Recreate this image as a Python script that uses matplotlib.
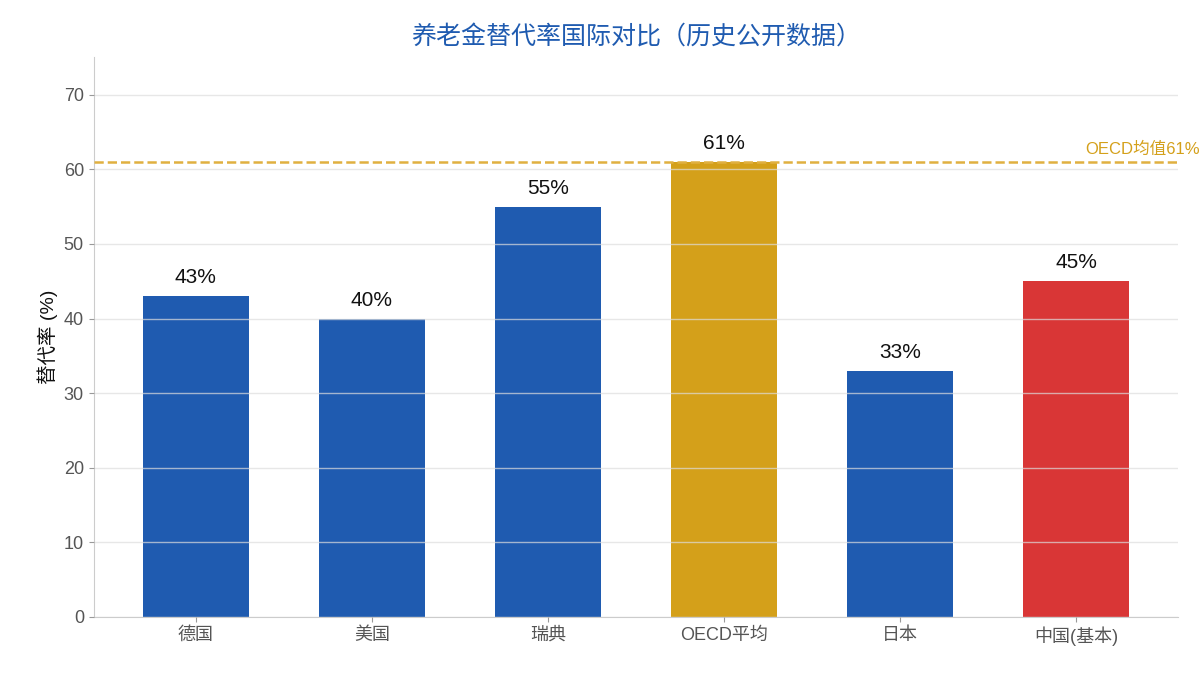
import matplotlib
matplotlib.use('Agg')
import matplotlib.pyplot as plt

plt.rcParams['font.family'] = ['Liberation Sans', 'Noto Sans CJK SC', 'DejaVu Sans']

countries = ['德国', '美国', '瑞典', 'OECD平均', '日本', '中国(基本)']
rates = [43, 40, 55, 61, 33, 45]
bar_colors = ['#1f5bb0', '#1f5bb0', '#1f5bb0', '#d4a01a', '#1f5bb0', '#d93636']
oecd_avg = 61

fig, ax = plt.subplots(figsize=(12, 6.75), dpi=100)
fig.subplots_adjust(left=0.078, right=0.982, top=0.915, bottom=0.086)

x = range(len(countries))
ax.bar(x, rates, width=0.6, color=bar_colors, zorder=2)
for xi, v in zip(x, rates):
    ax.text(xi, v + 1.2, f'{v}%', ha='center', va='bottom', fontsize=15, color='#111111', zorder=4)

ax.axhline(oecd_avg, color='#e0b040', linestyle='--', linewidth=1.8, zorder=3)
ax.text(5.05, oecd_avg + 0.6, f'OECD均值{oecd_avg}%', ha='left', va='bottom', fontsize=12, color='#d4a01a')

ax.set_xlim(-0.58, 5.58)
ax.set_ylim(0, 75)
ax.set_yticks(range(0, 71, 10))
ax.set_xticks(list(x))
ax.set_xticklabels(countries)
ax.tick_params(axis='both', labelsize=13, colors='#555555')
ax.tick_params(axis='both', color='#999999')
ax.yaxis.grid(True, color='#dddddd', linewidth=1, alpha=0.7, zorder=3)
ax.set_axisbelow(False)
for s in ['top', 'right']:
    ax.spines[s].set_visible(False)
for s in ['left', 'bottom']:
    ax.spines[s].set_color('#cccccc')

ax.set_ylabel('替代率 (%)', fontsize=14, color='#111111')
ax.set_title('养老金替代率国际对比（历史公开数据）', fontsize=18, color='#1f5bb0', pad=10)

fig.savefig('out.png', dpi=100)
